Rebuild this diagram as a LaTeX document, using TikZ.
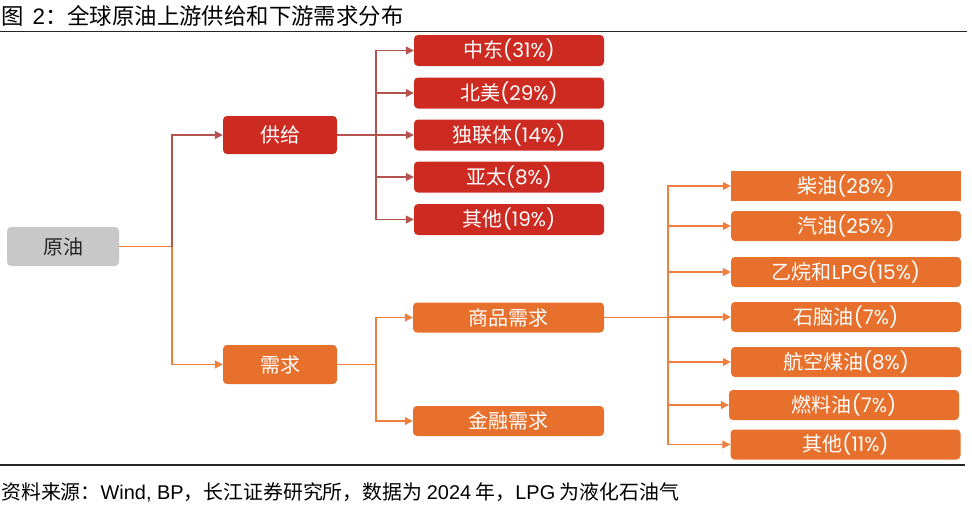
\documentclass[tikz,border=0pt]{standalone}
\usepackage{fontspec}
\setmainfont{Noto Sans CJK SC}
\newfontfamily\cjkf{Noto Sans CJK SC}
\newfontfamily\latf{Liberation Sans}
\newfontfamily\geof{Poppins}
\usetikzlibrary{arrows.meta}
\definecolor{supred}{HTML}{CD2B21}
\definecolor{demor}{HTML}{E8702D}
\definecolor{supline}{HTML}{B5544F}
\definecolor{demline}{HTML}{EE7F3E}
\definecolor{graybox}{HTML}{C8C8C8}
\newcommand{\gl}[1]{{\geof #1}}
\newcommand{\al}[1]{{\latf #1}}
\begin{document}
\begin{tikzpicture}[x=1pt,y=-1pt,
  box/.style={rounded corners=4pt, inner sep=0pt, text=white, font=\cjkf\fontsize{20}{23}\selectfont},
  supbox/.style={box, fill=supred},
  dembox/.style={box, fill=demor},
  supleaf/.style={supbox, minimum width=190pt, minimum height=31pt},
  demleaf/.style={dembox, minimum width=230pt, minimum height=30pt},
  supconn/.style={draw=supline, line width=1.3pt},
  demconn/.style={draw=demline, line width=1.3pt},
  arr/.style={-{Triangle[length=8pt,width=8pt]}},
  rulel/.style={draw=black!85, line width=1.6pt}
]
\useasboundingbox (0,0) rectangle (972,506);

% title and rules
\node[anchor=west, inner sep=0pt, font=\cjkf\fontsize{22.4}{26}\selectfont] (title) at (1,16) {图\hspace{9pt}\al{2}：全球原油上游供给和下游需求分布};
\coordinate (r1a) at (0,31.5); \coordinate (r1b) at (967,31.5);
\draw[rulel] (r1a) -- (r1b);
\coordinate (r2a) at (0,465); \coordinate (r2b) at (965,465);
\draw[rulel] (r2a) -- (r2b);
\node[anchor=west, inner sep=0pt, font=\cjkf\fontsize{19.9}{22}\selectfont] (src) at (1,492) {资料来源：\al{Wind, BP}，长江证券研究所，数据为 \al{2024} 年，\al{LPG} 为液化石油气};

% root
\node[box, fill=graybox, text=black!85, minimum width=112pt, minimum height=39pt] (root) at (63,246.5) {原油};
\node[supbox, minimum width=114pt, minimum height=38pt] (sup) at (280,135) {供给};
\node[dembox, minimum width=114pt, minimum height=39pt] (dem) at (280,364.5) {需求};

% supply leaves
\node[supleaf] (s1) at (509,50.5) {中东\gl{(31\%)}};
\node[supleaf] (s2) at (509,93) {北美\gl{(29\%)}};
\node[supleaf] (s3) at (509,135) {独联体\gl{(14\%)}};
\node[supleaf] (s4) at (509,177) {亚太\gl{(8\%)}};
\node[supleaf] (s5) at (509,219.5) {其他\gl{(19\%)}};

% demand mid
\node[dembox, minimum width=191pt, minimum height=30pt] (d1) at (508.5,317.5) {商品需求};
\node[dembox, minimum width=191pt, minimum height=30pt] (d2) at (508.5,421) {金融需求};

% demand leaves
\node[demleaf, rounded corners=0pt] (c1) at (846,186) {柴油\gl{(28\%)}};
\node[demleaf] (c2) at (846,226) {汽油\gl{(25\%)}};
\node[demleaf] (c3) at (846,272) {乙烷和\gl{LPG(15\%)}};
\node[demleaf] (c4) at (846,317) {石脑油\gl{(7\%)}};
\node[demleaf] (c5) at (846,362) {航空煤油\gl{(8\%)}};
\node[demleaf] (c6) at (844,405) {燃料油\gl{(7\%)}};
\node[demleaf] (c7) at (845.5,444.5) {其他\gl{(11\%)}};

% connectors root
\coordinate (j1) at (172,246.5);
\draw[demconn] (root.east) -- (j1);
\draw[supconn, arr] (j1) |- (sup.west);
\draw[demconn, arr] (j1) |- (dem.west);

% supply connectors
\coordinate (j2) at (376,135);
\draw[supconn] (sup.east) -- (j2);
\foreach \n in {s1,s2,s3,s4,s5} \draw[supconn, arr] (j2) |- (\n.west);

% demand connectors
\coordinate (j3) at (376,364.5);
\draw[demconn] (dem.east) -- (j3);
\draw[demconn, arr] (j3) |- (d1.west);
\draw[demconn, arr] (j3) |- (d2.west);

\coordinate (j4) at (668,317.5);
\draw[demconn] (d1.east) -- (j4);
\foreach \n in {c1,c2,c3,c4,c5,c6,c7} \draw[demconn, arr] (j4) |- (\n.west);
\end{tikzpicture}
\end{document}
